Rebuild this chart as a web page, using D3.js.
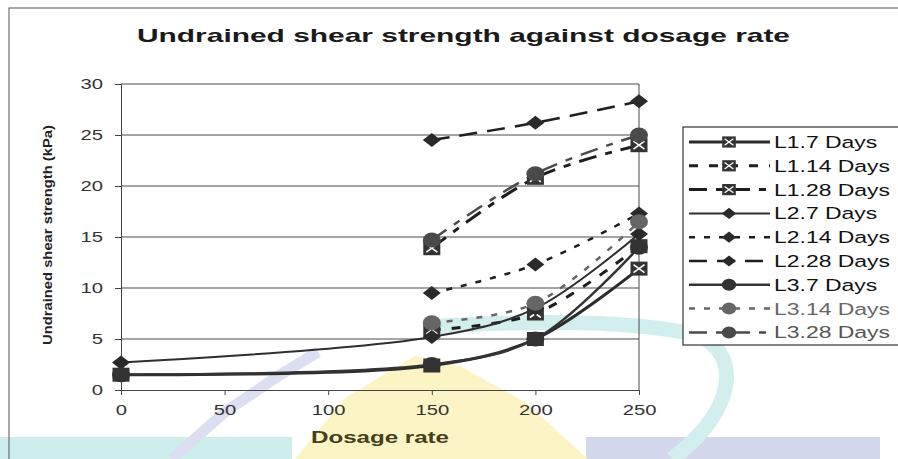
<!DOCTYPE html>
<html>
<head>
<meta charset="utf-8">
<script src="https://cdn.jsdelivr.net/npm/d3@7"></script>
<style>
  body { margin: 0; background: #fff; }
  svg { display: block; font-family: "Liberation Sans", Arial, sans-serif; }
</style>
</head>
<body>
<div id="chart"></div>
<script>
/***** data *****/
var dosage = [0, 150, 200, 250];
var yTicks = [0, 5, 10, 15, 20, 25, 30];
var xTicks = [0, 50, 100, 150, 200, 250];

// null = no reading at that dosage
var l1d7  = [1.5, 2.4, 5.0, 11.9];
var l1d14 = [null, 5.9, 7.5, 14.1];
var l1d28 = [null, 13.9, 20.8, 24.0];
var l2d7  = [2.7, 5.2, 8.0, 15.3];
var l2d14 = [null, 9.5, 12.3, 17.3];
var l2d28 = [null, 24.5, 26.2, 28.3];
var l3d7  = [1.5, 2.5, 5.0, 14.0];
var l3d14 = [null, 6.6, 8.5, 16.5];
var l3d28 = [null, 14.7, 21.2, 25.0];

var seriesNames = ["L1.7 Days", "L1.14 Days", "L1.28 Days", "L2.7 Days", "L2.14 Days",
                   "L2.28 Days", "L3.7 Days", "L3.14 Days", "L3.28 Days"];
var seriesValues = [l1d7, l1d14, l1d28, l2d7, l2d14, l2d28, l3d7, l3d14, l3d28];

/***** styles per series *****/
var styleMap = {
  "L1.7 Days":  {marker: "square",  color: "#2b2b2b", width: 3,   dash: null,       text: "#111"},
  "L1.14 Days": {marker: "square",  color: "#1e1e1e", width: 3,   dash: "9,11",     text: "#111"},
  "L1.28 Days": {marker: "square",  color: "#1e1e1e", width: 3,   dash: "18,9,7,9", text: "#111"},
  "L2.7 Days":  {marker: "diamond", color: "#2e2e2e", width: 2,   dash: null,       text: "#111"},
  "L2.14 Days": {marker: "diamond", color: "#1e1e1e", width: 2.5, dash: "6,9",      text: "#111"},
  "L2.28 Days": {marker: "diamond", color: "#1e1e1e", width: 2.5, dash: "18,10",    text: "#111"},
  "L3.7 Days":  {marker: "circle",  color: "#333",    width: 2.5, dash: null,       text: "#111"},
  "L3.14 Days": {marker: "circle",  color: "#666",    width: 2.5, dash: "6,9",      text: "#666"},
  "L3.28 Days": {marker: "circle",  color: "#4a4a4a", width: 2.5, dash: "18,9,7,9", text: "#555"}
};

var W = 898, H = 459;
var svg = d3.select("#chart").append("svg")
  .attr("width", W)
  .attr("height", H);

/***** scanned-page watermark behind the chart *****/
var wm = svg.append("g").attr("class", "watermark");
wm.append("rect").attr("x", 0).attr("y", 437).attr("width", 292).attr("height", 22).attr("fill", "#cdeeeb");
wm.append("rect").attr("x", 586).attr("y", 437).attr("width", 294).attr("height", 22).attr("fill", "#d3d7ec");
wm.append("path")
  .attr("d", "M295,459 L345,398 L415,356 L460,366 L525,402 L588,459 Z")
  .attr("fill", "#fdf4c6");
wm.append("path")
  .attr("d", "M172,459 L225,412 L280,375 L318,352")
  .attr("fill", "none").attr("stroke", "#dcdff1").attr("stroke-width", 11);
wm.append("path")
  .attr("d", "M430,327 C530,320 640,320 700,336 C742,356 735,412 672,459")
  .attr("fill", "none").attr("stroke", "#d2efed").attr("stroke-width", 15);

//chart border
svg.append("rect")
  .attr("x", 9).attr("y", 8)
  .attr("width", W).attr("height", H)
  .attr("fill", "none").attr("stroke", "#555").attr("stroke-width", 1);

//scales
var x = d3.scaleLinear().domain([0, 250]).range([121, 639]);
var y = d3.scaleLinear().domain([0, 30]).range([390, 84]);

// stretch text horizontally like the scanned original
var SX = 1.35;
function stretch(sel) {
  sel.each(function () {
    var t = d3.select(this);
    var tx = +t.attr("x") || 0;
    t.attr("x", 0).attr("transform", "translate(" + tx + ",0) scale(" + SX + ",1)");
  });
}

//gridlines
svg.append("g")
  .selectAll("line")
  .data(yTicks.filter(function (d) { return d > 0; }))
  .enter().append("line")
  .attr("x1", x(0)).attr("x2", x(250))
  .attr("y1", function (d) { return y(d); })
  .attr("y2", function (d) { return y(d); })
  .attr("stroke", "#4a4a4a").attr("stroke-width", 1);

//right edge of plot area
svg.append("line")
  .attr("x1", x(250)).attr("x2", x(250))
  .attr("y1", y(30)).attr("y2", y(0))
  .attr("stroke", "#4a4a4a");

//axes
var yAxis = d3.axisLeft(y).tickValues(yTicks).tickSize(6).tickPadding(12);
var xAxis = d3.axisBottom(x).tickValues(xTicks).tickSize(5).tickPadding(9);

var gy = svg.append("g").attr("transform", "translate(" + x(0) + ",0)").call(yAxis);
var gx = svg.append("g").attr("transform", "translate(0," + y(0) + ")").call(xAxis);

[gx, gy].forEach(function (g) {
  g.select(".domain").attr("stroke", "#444");
  g.selectAll(".tick line").attr("stroke", "#444");
  g.selectAll(".tick text")
    .attr("font-size", 15)
    .attr("font-family", "Liberation Sans, Arial, sans-serif")
    .attr("fill", "#333");
});
stretch(gy.selectAll(".tick text"));
stretch(gx.selectAll(".tick text"));

//titles
svg.append("text")
  .attr("x", 137).attr("y", 42)
  .attr("font-size", 18.5).attr("font-weight", "bold")
  .attr("fill", "#1a1a1a")
  .attr("textLength", 653).attr("lengthAdjust", "spacingAndGlyphs")
  .text("Undrained shear strength against dosage rate");

svg.append("text")
  .attr("transform", "translate(52,235) rotate(-90)")
  .attr("text-anchor", "middle")
  .attr("font-size", 13.5).attr("font-weight", "bold")
  .attr("fill", "#222")
  .attr("textLength", 220).attr("lengthAdjust", "spacingAndGlyphs")
  .text("Undrained shear strength (kPa)");

svg.append("text")
  .attr("x", 311).attr("y", 443)
  .attr("font-size", 16).attr("font-weight", "bold")
  .attr("fill", "#45401a")
  .attr("textLength", 138).attr("lengthAdjust", "spacingAndGlyphs")
  .text("Dosage rate");

/***** markers *****/
function drawMarker(g, kind, cx, cy, color, s) {
  if (kind === "square") {
    var w = 17 * s, h = 14 * s;
    g.append("rect")
      .attr("x", cx - w / 2).attr("y", cy - h / 2)
      .attr("width", w).attr("height", h)
      .attr("fill", "#333");
    g.append("path")
      .attr("d", "M" + (cx - w / 2 + 3 * s) + "," + (cy - h / 2 + 3 * s) + "L" + (cx + w / 2 - 3 * s) + "," + (cy + h / 2 - 3 * s) +
                 "M" + (cx + w / 2 - 3 * s) + "," + (cy - h / 2 + 3 * s) + "L" + (cx - w / 2 + 3 * s) + "," + (cy + h / 2 - 3 * s))
      .attr("stroke", "#fff").attr("stroke-width", 1.6 * s);
  } else if (kind === "diamond") {
    var dw = 9 * s, dh = 7 * s;
    g.append("path")
      .attr("d", "M" + (cx - dw) + "," + cy + "L" + cx + "," + (cy - dh) + "L" + (cx + dw) + "," + cy + "L" + cx + "," + (cy + dh) + "Z")
      .attr("fill", "#2a2a2a");
  } else {
    g.append("ellipse")
      .attr("cx", cx).attr("cy", cy)
      .attr("rx", 9 * s).attr("ry", 7.5 * s)
      .attr("fill", color);
  }
}

/***** lines *****/
var line = d3.line()
  .defined(function (d) { return d.v !== null; })
  .x(function (d) { return x(d.x); })
  .y(function (d) { return y(d.v); })
  .curve(d3.curveCatmullRom.alpha(0.5));

var plot = svg.append("g").attr("class", "plot");

seriesNames.forEach(function (name, i) {
  var st = styleMap[name];
  var pts = dosage.map(function (d, j) { return {x: d, v: seriesValues[i][j]}; });
  plot.append("path")
    .datum(pts.filter(function (d) { return d.v !== null; }))
    .attr("d", line)
    .attr("fill", "none")
    .attr("stroke", st.color)
    .attr("stroke-width", st.width)
    .attr("stroke-dasharray", st.dash);
});

seriesNames.forEach(function (name, i) {
  var st = styleMap[name];
  var g = plot.append("g");
  dosage.forEach(function (d, j) {
    var v = seriesValues[i][j];
    if (v === null) { return; }
    drawMarker(g, st.marker, x(d), y(v), st.color, 1);
  });
});

/***** legend *****/
var legend = svg.append("g").attr("class", "legend");
legend.append("rect")
  .attr("x", 683).attr("y", 127)
  .attr("width", 240).attr("height", 218)
  .attr("fill", "#fff").attr("stroke", "#333").attr("stroke-width", 1.2);

var rows = legend.selectAll("g.row")
  .data(seriesNames)
  .enter().append("g")
  .attr("class", "row")
  .attr("transform", function (d, i) { return "translate(0," + (142 + i * 23.8) + ")"; });

rows.each(function (name) {
  var st = styleMap[name];
  var g = d3.select(this);
  g.append("line")
    .attr("x1", 689).attr("x2", 770)
    .attr("y1", 0).attr("y2", 0)
    .attr("stroke", st.color)
    .attr("stroke-width", st.width)
    .attr("stroke-dasharray", st.dash);
  drawMarker(g, st.marker, 729, 0, st.color, 0.8);
  g.append("text")
    .attr("x", 774).attr("y", 6)
    .attr("font-size", 17)
    .attr("fill", st.text)
    .text(name);
});
stretch(rows.selectAll("text"));
</script>
</body>
</html>
